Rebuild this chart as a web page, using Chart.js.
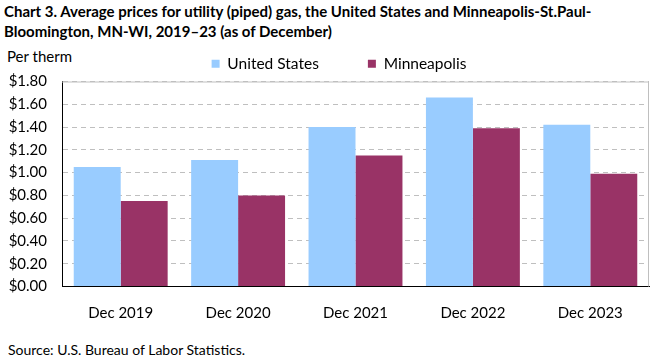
<!DOCTYPE html>
<html><head><meta charset="utf-8">
<script src="https://cdn.jsdelivr.net/npm/chart.js@4/dist/chart.umd.min.js"></script>
<style>
html,body{margin:0;padding:0;background:#fff;width:661px;height:361px;overflow:hidden;font-family:Lato,"Open Sans",sans-serif;color:#000}
#title{position:absolute;left:4px;top:1px;font-weight:bold;font-size:15px;line-height:20px;}
#unit{position:absolute;left:7px;top:47px;font-size:15px;}
#source{position:absolute;left:8px;top:341px;font-size:14px;}
#wrap{position:absolute;left:0;top:6.5px;width:661px;height:313.5px;}
</style></head>
<body>
<div id="title">Chart 3. Average prices for utility (piped) gas, the United States and Minneapolis-St.Paul-<br>Bloomington, MN-WI, 2019–23 (as of December)</div>
<div id="unit">Per therm</div>
<div id="source">Source: U.S. Bureau of Labor Statistics.</div>
<div id="wrap"><canvas id="c"></canvas></div>
<script>
const categories = ["Dec 2019","Dec 2020","Dec 2021","Dec 2022","Dec 2023"];
const unitedStates = [1.05, 1.11, 1.40, 1.66, 1.42];
const minneapolis = [0.75, 0.80, 1.15, 1.39, 0.99];
const seriesNames = ["United States","Minneapolis"];

const frame = {
  id:'frame',
  afterDraw(chart){
    const {ctx, chartArea:a} = chart;
    ctx.save();
    ctx.strokeStyle = '#bfbfbf'; ctx.lineWidth = 1;
    ctx.beginPath();
    ctx.moveTo(a.left, a.top+0.5); ctx.lineTo(a.right-0.5, a.top+0.5); ctx.lineTo(a.right-0.5, a.bottom);
    ctx.stroke();
    ctx.restore();
  }
};
const legendShift = {
  id:'legendShift',
  afterLayout(chart){ const l = chart.legend; if(l){ l.left += 14.5; l.right += 14.5; } }
};

new Chart(document.getElementById('c'), {
  type:'bar',
  data:{labels:categories, datasets:[
    {label:seriesNames[0], data:unitedStates, backgroundColor:'#99ccff', categoryPercentage:0.8, barPercentage:1.0},
    {label:seriesNames[1], data:minneapolis, backgroundColor:'#993366', categoryPercentage:0.8, barPercentage:1.0}
  ]},
  options:{
    responsive:true, maintainAspectRatio:false, animation:false,
    layout:{padding:{left:0,right:12,top:0,bottom:0}},
    plugins:{
      legend:{position:'top', labels:{font:{family:'Lato',size:15.5}, color:'#000', boxWidth:8, boxHeight:8, padding:49}},
      tooltip:{enabled:false}
    },
    scales:{
      x:{grid:{display:false}, border:{color:'#000', width:1},
         ticks:{font:{family:'Lato',size:15}, color:'#000', padding:10},
         afterFit(s){ s.height = 34; }},
      y:{min:0, max:1.8, grid:{color:'#bfbfbf', drawTicks:false, lineWidth:1},
         border:{color:'#000', width:1, dash:[5,4]},
         ticks:{stepSize:0.2, font:{family:'Lato',size:15}, color:'#000', padding:15,
           callback:v=>'$'+Number(v).toFixed(2)},
         afterFit(s){ s.width = 62; }}
    }
  },
  plugins:[frame, legendShift]
});
</script>
</body></html>
